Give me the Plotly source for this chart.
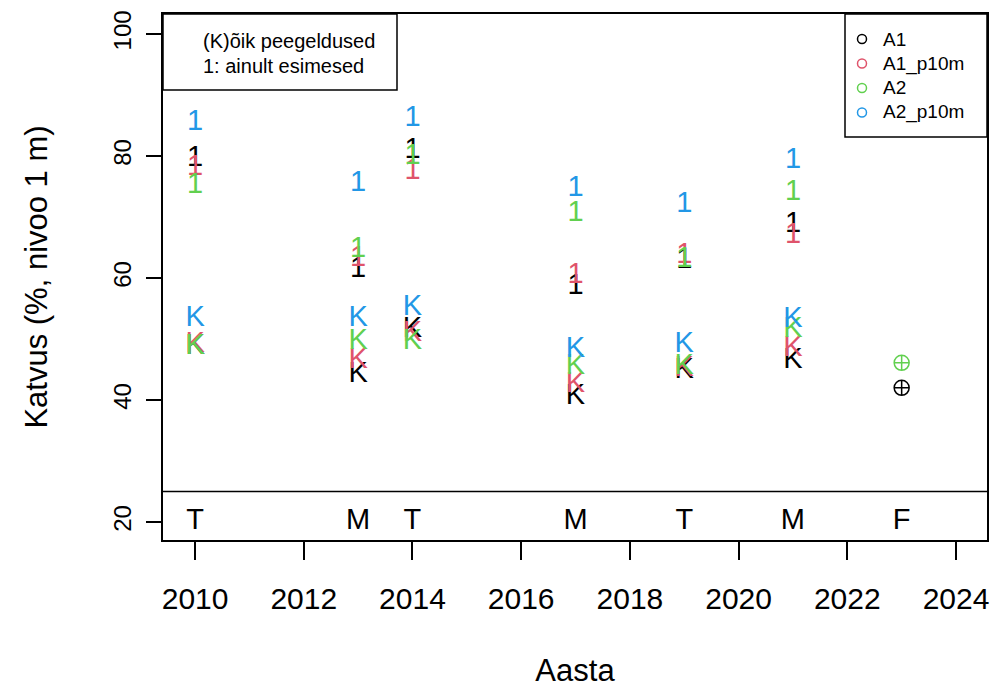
import plotly.graph_objects as go

# Survey years with both "K" (all returns) and "1" (first returns) estimates
years = [2010, 2013, 2014, 2017, 2019, 2021]
season_years = [2010, 2013, 2014, 2017, 2019, 2021, 2023]
season_codes = ["T", "M", "T", "M", "T", "M", "F"]

# Coverage (%), all returns
a1_k = [48.7, 44.1, 51.6, 40.5, 44.8, 46.4]
a1p_k = [49.0, 46.4, 50.8, 42.5, 45.2, 48.4]
a2_k = [48.8, 49.5, 49.5, 45.4, 45.4, 51.5]
a2p_k = [53.4, 53.4, 55.2, 48.2, 49.0, 53.1]

# Coverage (%), first returns only
a1_1 = [79.5, 61.3, 80.8, 58.5, 62.8, 68.7]
a1p_1 = [78.1, 63.2, 77.4, 60.3, 63.6, 67.0]
a2_1 = [75.2, 64.6, 79.8, 70.6, 63.0, 73.9]
a2p_1 = [85.4, 75.5, 86.1, 74.6, 72.0, 79.3]

# 2023 (F) single values
f_year = [2023]
a1_f = [42.0]
a2_f = [46.1]

names = ["A1", "A1_p10m", "A2", "A2_p10m"]
colors = ["#000000", "#DF536B", "#61D04F", "#2297E6"]
k_series = [a1_k, a1p_k, a2_k, a2p_k]
one_series = [a1_1, a1p_1, a2_1, a2p_1]

FONT = "Liberation Sans, Arial, sans-serif"
MARK_SIZE = 29

# Plot-area geometry in pixels, used to place the boxed notes
L, R, T, B = 163, 987, 14, 540


def px(x):
    return (x - L) / (R - L)


def py(y):
    return (B - y) / (B - T)


fig = go.Figure()

for name, col, kv, ov in zip(names, colors, k_series, one_series):
    fig.add_trace(go.Scatter(
        x=years, y=kv, mode="text", text=["K"] * len(years),
        textfont=dict(family=FONT, size=MARK_SIZE, color=col),
        showlegend=False, hoverinfo="skip"))
    fig.add_trace(go.Scatter(
        x=years, y=ov, mode="text", text=["1"] * len(years),
        textfont=dict(family=FONT, size=MARK_SIZE, color=col),
        showlegend=False, hoverinfo="skip"))

for yv, col in [(a1_f, colors[0]), (a2_f, colors[2])]:
    fig.add_trace(go.Scatter(
        x=f_year, y=yv, mode="markers",
        marker=dict(symbol="circle-cross-open", size=15, color=col,
                    line=dict(width=1.5, color=col)),
        showlegend=False, hoverinfo="skip"))

# Season codes along the bottom strip
fig.add_trace(go.Scatter(
    x=season_years, y=[20] * len(season_years), mode="text", text=season_codes,
    textfont=dict(family=FONT, size=MARK_SIZE, color="black"),
    showlegend=False, hoverinfo="skip"))

# Separator between the data area and the season strip
fig.add_shape(type="line", xref="paper", yref="y", x0=0, x1=1, y0=25, y1=25,
              line=dict(color="black", width=1.5))

# Note box in the upper left corner
fig.add_shape(type="rect", xref="paper", yref="paper",
              x0=0, x1=px(397), y0=py(90), y1=1,
              line=dict(color="black", width=1.5), fillcolor="white", layer="above")
for txt, yy in [("(K)õik peegeldused", 41), ("1: ainult esimesed", 66)]:
    fig.add_annotation(xref="paper", yref="paper", x=px(201), y=py(yy),
                       xanchor="left", yanchor="middle", showarrow=False,
                       text=txt, font=dict(family=FONT, size=20, color="black"))

# Series key in the upper right corner
fig.add_shape(type="rect", xref="paper", yref="paper",
              x0=px(845), x1=1, y0=py(137), y1=1,
              line=dict(color="black", width=1.5), fillcolor="white", layer="above")
for i, (name, col) in enumerate(zip(names, colors)):
    yy = 39 + i * 24.5
    fig.add_shape(type="circle", xref="paper", yref="paper",
                  xsizemode="pixel", ysizemode="pixel",
                  xanchor=px(862), yanchor=py(yy),
                  x0=-4.5, x1=4.5, y0=-4.5, y1=4.5,
                  line=dict(color=col, width=1.5), layer="above")
    fig.add_annotation(xref="paper", yref="paper", x=px(881), y=py(yy),
                       xanchor="left", yanchor="middle", showarrow=False,
                       text=name, font=dict(family=FONT, size=19, color="black"))

fig.update_layout(
    width=1007, height=688,
    margin=dict(l=L, r=1007 - R, t=T, b=688 - B),
    paper_bgcolor="white", plot_bgcolor="white",
    font=dict(family=FONT, color="black"),
    showlegend=False,
    xaxis=dict(range=[2009.41, 2024.57], tickmode="array",
               tickvals=[2010, 2012, 2014, 2016, 2018, 2020, 2022, 2024],
               ticks="outside", ticklen=18, tickwidth=1.5, tickcolor="black",
               ticklabelstandoff=13, automargin=False,
               showgrid=False, zeroline=False, showline=True, mirror=True,
               linecolor="black", linewidth=1.5,
               tickfont=dict(family=FONT, size=30, color="black"),
               title=dict(text="Aasta", standoff=46,
                          font=dict(family=FONT, size=31, color="black"))),
    yaxis=dict(range=[17.05, 103.28], tickmode="array",
               tickvals=[20, 40, 60, 80, 100],
               ticks="outside", ticklen=15, tickwidth=1.5, tickcolor="black",
               tickangle=-90, ticklabelstandoff=6, automargin=False,
               showgrid=False, zeroline=False, showline=True, mirror=True,
               linecolor="black", linewidth=1.5,
               tickfont=dict(family=FONT, size=24, color="black"),
               title=dict(text="Katvus (%, nivoo 1 m)", standoff=52,
                          font=dict(family=FONT, size=31, color="black"))),
)

fig.write_html("out.html")
